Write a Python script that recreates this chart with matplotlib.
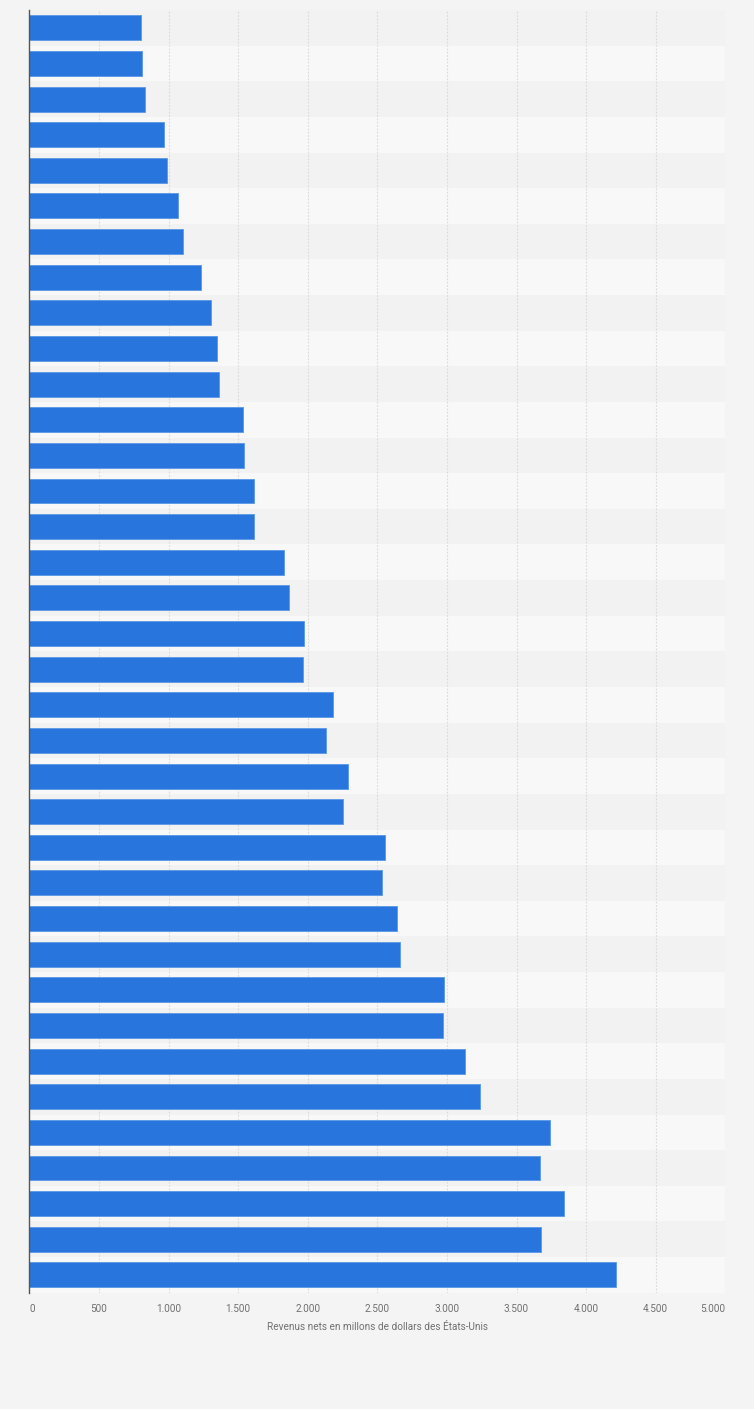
import matplotlib
matplotlib.use("Agg")
import matplotlib.pyplot as plt
from matplotlib.ticker import FuncFormatter

plt.rcParams['font.family'] = ['Roboto', 'DejaVu Sans']

values = [804, 811, 831, 969, 990, 1070, 1106, 1235, 1307, 1350, 1365,
          1537, 1545, 1617, 1617, 1832, 1868, 1976, 1969, 2185, 2134,
          2293, 2250, 2552, 2537, 2645, 2660, 2976, 2969, 3128, 3236,
          3738, 3671, 3843, 3676, 4217]
xticks = [0, 500, 1000, 1500, 2000, 2500, 3000, 3500, 4000, 4500, 5000]
xlabel = "Revenus nets en millons de dollars des États-Unis"

fig = plt.figure(figsize=(7.54, 14.09), dpi=100)
fig.patch.set_facecolor('#f4f4f4')
ax = fig.add_axes([29.3/754, 1-1292.7/1409, (725.3-29.3)/754, (1292.7-10)/1409])
ax.set_facecolor('#f4f4f4')

n = len(values)
for i in range(n):
    ax.axhspan(i-0.5, i+0.5, color='#f2f2f2' if i % 2 == 0 else '#f8f8f8', zorder=0, lw=0)

for x in xticks[1:]:
    ax.axvline(x, color='#dadada', lw=0.8, ls=(0, (1.5, 1.5)), zorder=1)

ax.barh(range(n), values, height=0.7, color='#2876dd', edgecolor='#5b97e6', linewidth=0.6, zorder=2)

ax.set_xlim(0, 5000)
ax.set_ylim(n-0.5, -0.5)
ax.set_yticks([])
ax.set_xticks(xticks)
ax.xaxis.set_major_formatter(FuncFormatter(lambda v, p: f"{int(v):,}".replace(",", ".")))
ax.tick_params(axis='x', length=0, pad=8, labelsize=7.2, labelcolor='#707070')
labels = ax.get_xticklabels()
labels[0].set_horizontalalignment('left')
labels[-1].set_horizontalalignment('right')
for s in ['top', 'right', 'bottom']:
    ax.spines[s].set_visible(False)
ax.spines['left'].set_color('#555555')
ax.spines['left'].set_linewidth(1.0)
ax.set_xlabel(xlabel, fontsize=7.2, color='#707070', labelpad=6)

fig.savefig('out.png', dpi=100, facecolor=fig.get_facecolor())
